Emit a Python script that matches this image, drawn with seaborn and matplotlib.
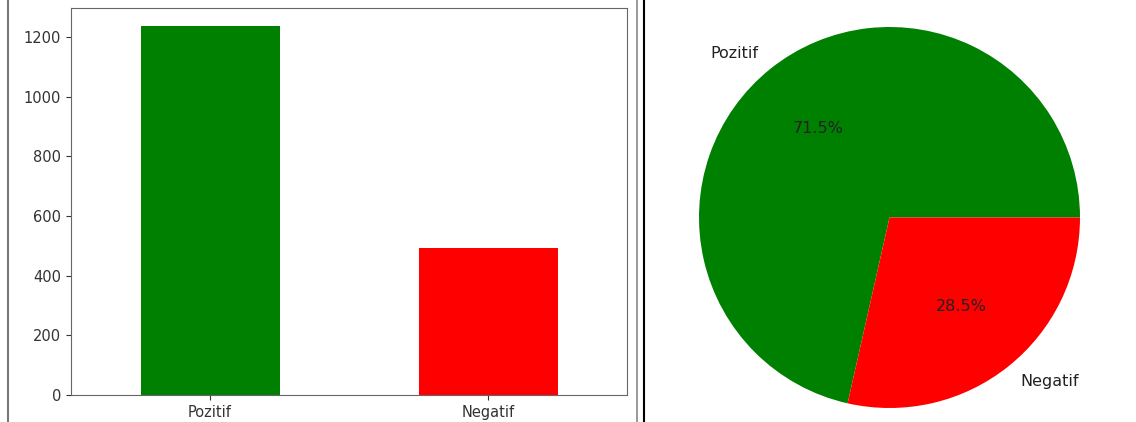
import matplotlib
matplotlib.use("Agg")
import matplotlib.pyplot as plt
from matplotlib.lines import Line2D
import seaborn as sns

# data
labels = ["Pozitif", "Negatif"]
counts = [1235, 493]
colors = ["green", "red"]

fig = plt.figure(figsize=(11.36, 4.22), dpi=100)
W, H = 1136, 422

# left: bar chart
ax1 = fig.add_axes([71 / W, (H - 395) / H, 556 / W, 387 / H])
sns.barplot(x=labels, y=counts, hue=labels, palette=colors, width=0.5,
            legend=False, saturation=1, ax=ax1)
ax1.set_yticks(range(0, 1201, 200))
ax1.tick_params(labelsize=10.5, colors="#333333")
for s in ax1.spines.values():
    s.set_color("#666666")
ax1.set_xlabel("")
ax1.set_ylabel("")

# right: pie chart
ax2 = fig.add_axes([699 / W, (H - 408) / H, 381 / W, 381 / H])
ax2.pie(counts, labels=labels, colors=colors, autopct="%1.1f%%",
        textprops={"fontsize": 11.5, "color": "#222222"})
ax2.set_aspect("equal")
ax2.set_xlim(-1, 1)
ax2.set_ylim(-1, 1)

# screenshot frame lines
fig.add_artist(Line2D([8 / W, 8 / W], [0, 1], color="#777777", lw=1.5))
fig.add_artist(Line2D([637 / W, 637 / W], [0, 1], color="#888888", lw=1.2))
fig.add_artist(Line2D([644 / W, 644 / W], [0, 1], color="black", lw=1.5))

fig.savefig("out.png", dpi=100)
